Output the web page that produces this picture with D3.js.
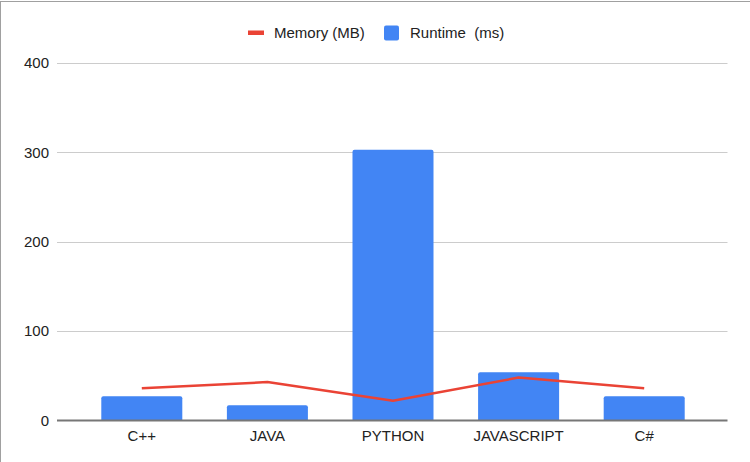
<!DOCTYPE html>
<html lang="en">
  <head>
    <meta charset="UTF-8">
    <title>Runtime and Memory</title>
    <script src="https://cdn.jsdelivr.net/npm/d3@7"></script>
    <style>
      html, body {
        margin: 0;
        padding: 0;
        background: #fff;
      }
      svg {
        display: block;
        font-family: Arial, 'Liberation Sans', sans-serif;
      }
    </style>
  </head>
  <body>
    <script>
      const languages = ["C++", "JAVA", "PYTHON", "JAVASCRIPT", "C#"];
      const runtime = [27, 17, 303, 54, 27];
      const memory = [36, 43, 22, 48, 36];
      const yTicks = [0, 100, 200, 300, 400];
      const legendItems = [
        { text: "Memory (MB)", color: "#ea4335", kind: "line" },
        { text: "Runtime  (ms)", color: "#4285f4", kind: "box" }
      ];

      const width = 750;
      const height = 462;

      const svg = d3.select("body")
        .append("svg")
        .attr("width", width)
        .attr("height", height);

      // frame lines like the sheet around the chart
      svg.append("line")
        .attr("x1", 0).attr("x2", width)
        .attr("y1", 1.5).attr("y2", 1.5)
        .attr("stroke", "#a0a0a0")
        .attr("stroke-width", 1);
      svg.append("line")
        .attr("x1", 0.5).attr("x2", 0.5)
        .attr("y1", 1).attr("y2", height)
        .attr("stroke", "#a0a0a0")
        .attr("stroke-width", 1);

      const x = d3.scaleBand()
        .domain(languages)
        .range([79, 707])
        .paddingInner(0.355)
        .paddingOuter(0.1775);

      const y = d3.scaleLinear()
        .domain([0, 400])
        .range([420.5, 63]);

      const gridLeft = 57;
      const gridRight = 727.5;

      // gridlines
      svg.append("g")
        .selectAll("line")
        .data(yTicks.filter(d => d !== 0))
        .enter()
        .append("line")
        .attr("x1", gridLeft)
        .attr("x2", gridRight)
        .attr("y1", d => Math.round(y(d)) + 0.5)
        .attr("y2", d => Math.round(y(d)) + 0.5)
        .attr("stroke", "#cccccc")
        .attr("stroke-width", 1);

      // y labels
      svg.append("g")
        .selectAll("text")
        .data(yTicks)
        .enter()
        .append("text")
        .attr("x", 49)
        .attr("y", d => y(d))
        .attr("dy", "0.35em")
        .attr("text-anchor", "end")
        .attr("font-size", 15)
        .attr("fill", "#222")
        .text(d => d);

      // bars
      svg.append("g")
        .selectAll("path")
        .data(languages)
        .enter()
        .append("path")
        .attr("fill", "#4285f4")
        .attr("d", (d, i) => {
          const x0 = x(d), w = x.bandwidth();
          const top = y(runtime[i]), bottom = y(0);
          const r = 2;
          return `M${x0},${bottom}V${top + r}Q${x0},${top} ${x0 + r},${top}` +
            `H${x0 + w - r}Q${x0 + w},${top} ${x0 + w},${top + r}V${bottom}Z`;
        });

      // baseline
      svg.append("line")
        .attr("x1", gridLeft)
        .attr("x2", gridRight)
        .attr("y1", y(0))
        .attr("y2", y(0))
        .attr("stroke", "#777")
        .attr("stroke-width", 2);

      // memory line
      const line = d3.line()
        .x((d, i) => x(languages[i]) + x.bandwidth() / 2)
        .y(d => y(d));

      svg.append("path")
        .datum(memory)
        .attr("fill", "none")
        .attr("stroke", "#ea4335")
        .attr("stroke-width", 2.5)
        .attr("stroke-linejoin", "round")
        .attr("d", line);

      // x labels
      svg.append("g")
        .selectAll("text")
        .data(languages)
        .enter()
        .append("text")
        .attr("x", d => x(d) + x.bandwidth() / 2)
        .attr("y", 436)
        .attr("dy", "0.35em")
        .attr("text-anchor", "middle")
        .attr("font-size", 15)
        .attr("fill", "#222")
        .text(d => d);

      // legend
      const legend = svg.append("g").attr("id", "legend");
      const legendX = [248, 384];

      legend.selectAll("rect")
        .data(legendItems)
        .enter()
        .append("rect")
        .attr("x", (d, i) => legendX[i])
        .attr("y", d => d.kind === "line" ? 30.5 : 25.5)
        .attr("width", d => d.kind === "line" ? 16 : 15)
        .attr("height", d => d.kind === "line" ? 4.5 : 15)
        .attr("rx", d => d.kind === "line" ? 0 : 2)
        .attr("fill", d => d.color);

      legend.selectAll("text")
        .data(legendItems)
        .enter()
        .append("text")
        .attr("x", (d, i) => legendX[i] + 26)
        .attr("y", 33)
        .attr("dy", "0.35em")
        .attr("font-size", 15)
        .attr("fill", "#222")
        .style("white-space", "pre")
        .text(d => d.text);
    </script>
  </body>
</html>
